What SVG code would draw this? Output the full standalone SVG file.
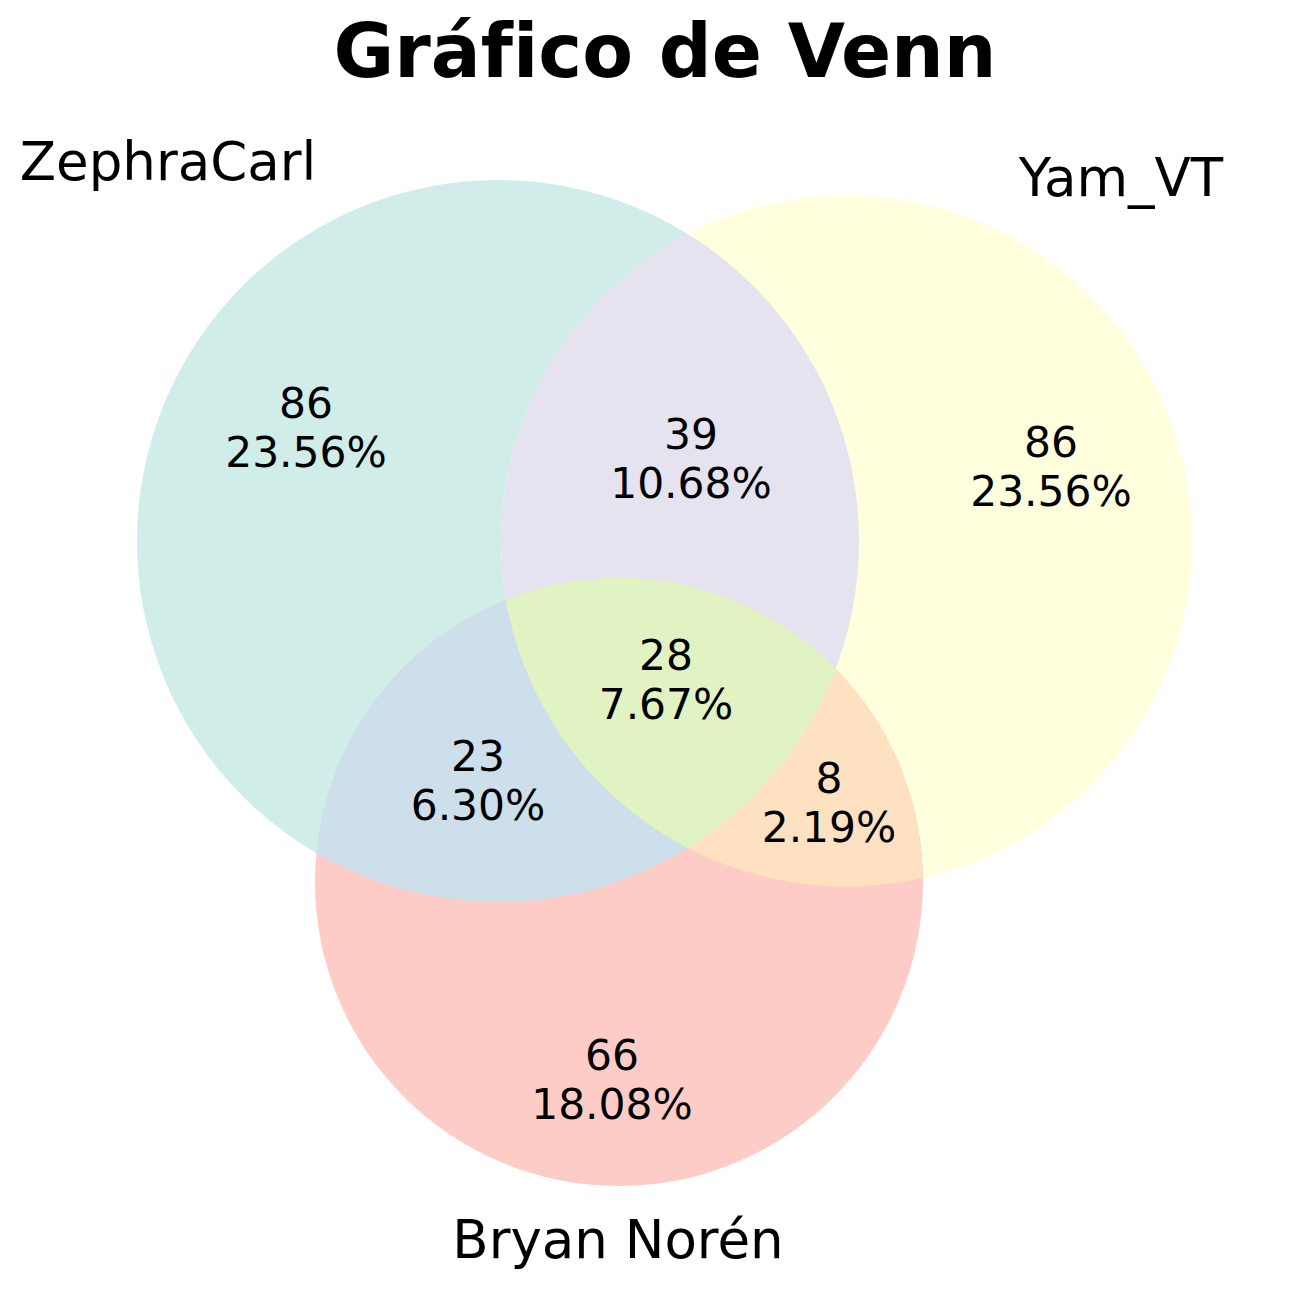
<svg xmlns="http://www.w3.org/2000/svg" width="1299" height="1294" viewBox="0 0 1299 1294">
<style>
text{font-variant-ligatures:none}
.lbl{font-family:"DejaVu Sans",sans-serif;font-size:42.4px;fill:#000;text-anchor:middle}
.set{font-family:"DejaVu Sans",sans-serif;font-size:53px;fill:#000;text-anchor:middle}
.title{font-family:"DejaVu Sans",sans-serif;font-size:74px;font-weight:bold;fill:#000;text-anchor:middle}
</style>
<defs>
<clipPath id="clipA"><circle cx="498" cy="541" r="361"/></clipPath>
<clipPath id="clipB"><circle cx="846.5" cy="541" r="345.5"/></clipPath>
<clipPath id="clipC"><circle cx="619" cy="882" r="304"/></clipPath>
</defs>
<rect width="1299" height="1294" fill="#ffffff"/>
<text class="title" x="665" y="77">Gráfico de Venn</text>
<g id="regions">
<g id="setA"><circle cx="498" cy="541" r="361" fill="#d1ede9"/></g>
<g id="setB"><circle cx="846.5" cy="541" r="345.5" fill="#ffffde"/></g>
<g id="setC"><circle cx="619" cy="882" r="304" fill="#fdccc6"/></g>
<g id="AB" clip-path="url(#clipA)"><circle cx="846.5" cy="541" r="345.5" fill="#e5e3f0"/></g>
<g id="AC" clip-path="url(#clipA)"><circle cx="619" cy="882" r="304" fill="#ccdfeb"/></g>
<g id="BC" clip-path="url(#clipB)"><circle cx="619" cy="882" r="304" fill="#fee1c0"/></g>
<g id="ABC" clip-path="url(#clipA)"><g clip-path="url(#clipB)"><circle cx="619" cy="882" r="304" fill="#e1f2c3"/></g></g>
</g>
<g id="setlabels">
<text class="set" x="168" y="180">ZephraCarl</text>
<text class="set" x="1121" y="196">Yam_VT</text>
<text class="set" x="618" y="1258">Bryan Norén</text>
</g>
<g id="counts">
<text class="lbl" x="306" y="418">86</text><text class="lbl" x="306" y="467">23.56%</text>
<text class="lbl" x="691" y="449">39</text><text class="lbl" x="691" y="498">10.68%</text>
<text class="lbl" x="1051" y="457">86</text><text class="lbl" x="1051" y="506">23.56%</text>
<text class="lbl" x="666" y="670">28</text><text class="lbl" x="666" y="719">7.67%</text>
<text class="lbl" x="478" y="771">23</text><text class="lbl" x="478" y="820">6.30%</text>
<text class="lbl" x="829" y="793">8</text><text class="lbl" x="829" y="842">2.19%</text>
<text class="lbl" x="612" y="1070">66</text><text class="lbl" x="612" y="1119">18.08%</text>
</g>
</svg>
